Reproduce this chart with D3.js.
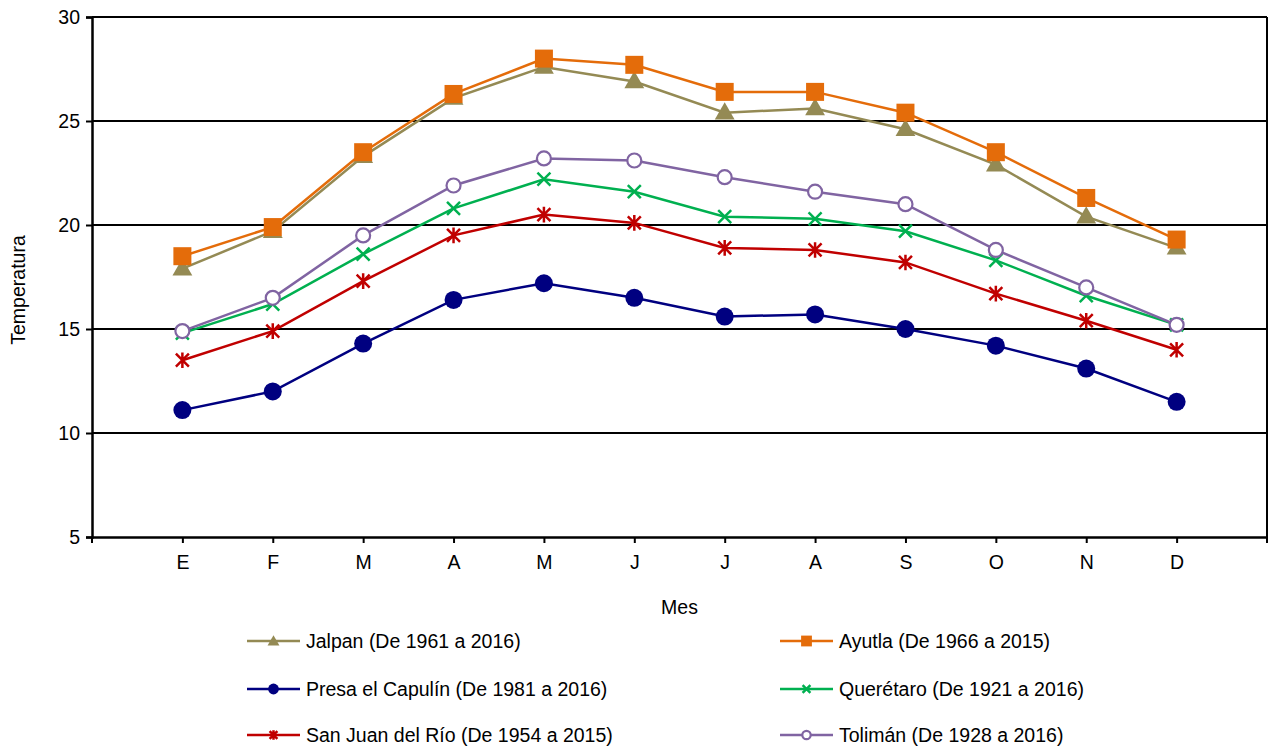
<!DOCTYPE html>
<html>
<head>
<meta charset="utf-8">
<script src="https://cdn.jsdelivr.net/npm/d3@7"></script>
<style>
  body { margin: 0; background: #fff; }
  text { font-family: "Liberation Sans", Arial, sans-serif; fill: #000; }
</style>
</head>
<body>
<div id="chart"></div>
<script>
const W = 1272, H = 753;
const margin = {left: 92, right: 5, top: 17, bottom: 216};
const FS = "19.5px";

const months = ["E", "F", "M", "A", "M", "J", "J", "A", "S", "O", "N", "D"];
const yTicks = [5, 10, 15, 20, 25, 30];

const jalpan   = [17.9, 19.7, 23.3, 26.1, 27.6, 26.9, 25.4, 25.6, 24.6, 22.9, 20.4, 18.9];
const ayutla   = [18.5, 19.9, 23.5, 26.3, 28.0, 27.7, 26.4, 26.4, 25.4, 23.5, 21.3, 19.3];
const capulin  = [11.1, 12.0, 14.3, 16.4, 17.2, 16.5, 15.6, 15.7, 15.0, 14.2, 13.1, 11.5];
const queretaro = [14.8, 16.2, 18.6, 20.8, 22.2, 21.6, 20.4, 20.3, 19.7, 18.3, 16.6, 15.2];
const sanJuan  = [13.5, 14.9, 17.3, 19.5, 20.5, 20.1, 18.9, 18.8, 18.2, 16.7, 15.4, 14.0];
const toliman  = [14.9, 16.5, 19.5, 21.9, 23.2, 23.1, 22.3, 21.6, 21.0, 18.8, 17.0, 15.2];

const series = [
  {name: "Jalpan (De 1961 a 2016)", values: jalpan, color: "#948A54", marker: "triangle"},
  {name: "Ayutla (De 1966 a 2015)", values: ayutla, color: "#E46C0A", marker: "square"},
  {name: "Presa el Capulín (De 1981 a 2016)", values: capulin, color: "#000080", marker: "circle"},
  {name: "Querétaro (De 1921 a 2016)", values: queretaro, color: "#00B050", marker: "x"},
  {name: "San Juan del Río (De 1954 a 2015)", values: sanJuan, color: "#C00000", marker: "star"},
  {name: "Tolimán (De 1928 a 2016)", values: toliman, color: "#8064A2", marker: "ocircle"}
];

const svg = d3.select("#chart").append("svg").attr("width", W).attr("height", H);

const x = d3.scalePoint()
  .domain(d3.range(months.length))
  .range([margin.left, W - margin.right])
  .padding(1);
const y = d3.scaleLinear().domain([5, 30]).range([H - margin.bottom, margin.top]);

// grid lines
svg.append("g").selectAll("line")
  .data(yTicks.slice(1))
  .enter().append("line")
  .attr("x1", margin.left).attr("x2", W - margin.right)
  .attr("y1", d => y(d)).attr("y2", d => y(d))
  .attr("stroke", "#000").attr("stroke-width", 2);

// right border
svg.append("line")
  .attr("x1", W - margin.right).attr("x2", W - margin.right)
  .attr("y1", y(30)).attr("y2", y(5))
  .attr("stroke", "#000").attr("stroke-width", 2);

// y axis
const yAxis = svg.append("g")
  .attr("transform", `translate(${margin.left},0)`)
  .call(d3.axisLeft(y).tickValues(yTicks).tickSize(6).tickPadding(6));
yAxis.select(".domain").attr("stroke-width", 2.5);
yAxis.selectAll(".tick line").attr("stroke-width", 2);
yAxis.selectAll("text").style("font-size", FS).style("font-family", "Liberation Sans, Arial, sans-serif");

// x axis
const xAxis = svg.append("g")
  .attr("transform", `translate(0,${y(5)})`)
  .call(d3.axisBottom(x).tickFormat(i => months[i]).tickSize(6).tickPadding(12).tickSizeOuter(0));
xAxis.select(".domain").attr("stroke-width", 2.5);
xAxis.selectAll(".tick line").attr("stroke-width", 2);
xAxis.selectAll("text").style("font-size", FS).style("font-family", "Liberation Sans, Arial, sans-serif");
// end ticks at the edges
xAxis.selectAll(".edge")
  .data([margin.left, W - margin.right])
  .enter().append("line")
  .attr("x1", d => d).attr("x2", d => d)
  .attr("y1", 0).attr("y2", 6)
  .attr("stroke", "#000").attr("stroke-width", 2);

// axis titles
svg.append("text")
  .attr("transform", `translate(25,290) rotate(-90)`)
  .attr("text-anchor", "middle")
  .style("font-size", FS)
  .text("Temperatura");
svg.append("text")
  .attr("x", (margin.left + W - margin.right) / 2)
  .attr("y", 614)
  .attr("text-anchor", "middle")
  .style("font-size", FS)
  .text("Mes");

function drawMarker(g, type, color, size) {
  const s = size || 1;
  if (type === "triangle") {
    g.append("path").attr("d", d3.symbol(d3.symbolTriangle, 170 * s * s)()).attr("fill", color)
      .attr("transform", "translate(0,1)");
  } else if (type === "square") {
    g.append("rect").attr("x", -9 * s).attr("y", -9 * s).attr("width", 18 * s).attr("height", 18 * s)
      .attr("fill", color);
  } else if (type === "circle") {
    g.append("circle").attr("r", 9 * s).attr("fill", color);
  } else if (type === "ocircle") {
    g.append("circle").attr("r", 7 * s).attr("fill", "#fff").attr("stroke", color).attr("stroke-width", 2.2);
  } else if (type === "x") {
    const r = 6.5 * s;
    g.append("path").attr("d", `M${-r},${-r}L${r},${r}M${-r},${r}L${r},${-r}`)
      .attr("stroke", color).attr("stroke-width", 2.5);
  } else if (type === "star") {
    const r = 6.5 * s;
    g.append("path").attr("d", `M${-r},${-r}L${r},${r}M${-r},${r}L${r},${-r}M0,${-r * 1.2}L0,${r * 1.2}`)
      .attr("stroke", color).attr("stroke-width", 2.5);
  }
}

const line = d3.line().x((d, i) => x(i)).y(d => y(d));

series.forEach(s => {
  svg.append("path")
    .datum(s.values)
    .attr("d", line)
    .attr("fill", "none")
    .attr("stroke", s.color)
    .attr("stroke-width", 2.5);
  s.values.forEach((v, i) => {
    const g = svg.append("g").attr("transform", `translate(${x(i)},${y(v)})`);
    drawMarker(g, s.marker, s.color, 1);
  });
});

// legend
const legendCols = [247, 780];
const legendRows = [641, 689, 735];
series.forEach((s, k) => {
  const lx = legendCols[k % 2], ly = legendRows[Math.floor(k / 2)];
  const g = svg.append("g").attr("transform", `translate(${lx},${ly})`);
  g.append("line").attr("x1", 0).attr("x2", 53).attr("y1", 0).attr("y2", 0)
    .attr("stroke", s.color).attr("stroke-width", 2.5);
  const m = g.append("g").attr("transform", "translate(26.5,0)");
  drawMarker(m, s.marker, s.color, 0.6);
  g.append("text").attr("x", 59).attr("y", 7).style("font-size", FS).text(s.name);
});
</script>
</body>
</html>
